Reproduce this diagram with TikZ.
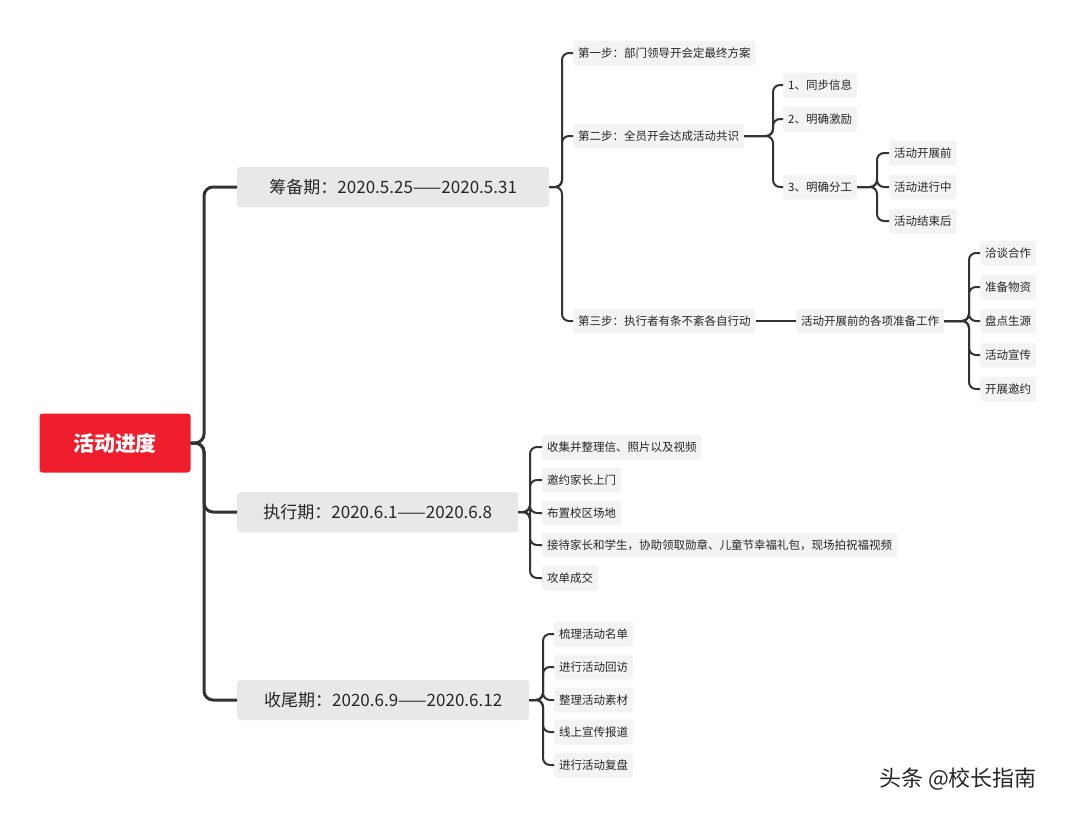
\documentclass[tikz,border=0pt]{standalone}
\usepackage{fontspec}
\setmainfont{Noto Sans CJK SC}
\definecolor{rootred}{RGB}{240, 30, 45}
\definecolor{topic}{RGB}{232, 232, 232}
\definecolor{sub}{RGB}{243, 243, 243}
\definecolor{wire}{RGB}{51, 51, 51}

\begin{document}
\begin{tikzpicture}[x=1pt, y=-1pt]
    \tikzstyle{rootblock} = [rectangle, fill=rootred, text=white, font=\bfseries\fontsize{21}{24}\selectfont,
    minimum width=151pt, minimum height=59pt, rounded corners=3pt];
    \tikzstyle{tblock} = [rectangle, fill=topic, text=black!85, font=\fontsize{17}{20}\selectfont,
    minimum height=40pt, inner xsep=10pt, rounded corners=3pt, anchor=west];
    \tikzstyle{sblock} = [rectangle, fill=sub, text=black!85, font=\fontsize{11.5}{14}\selectfont,
    minimum height=25pt, inner xsep=5pt, rounded corners=3pt, anchor=west];
    \tikzstyle{link} = [draw=wire, line width=2pt, rounded corners=7pt];
    \tikzstyle{mainlink} = [draw=wire, line width=3pt, rounded corners=9pt];
    \useasboundingbox (0,0) rectangle (1080,817);

    % Root and periods
    \node [rootblock] (root) at (115,443) {活动进度};
    \node [tblock, minimum width=312pt] (prep) at (237,187) {筹备期：2020.5.25——2020.5.31};
    \node [tblock, minimum width=281pt] (exec) at (237,512) {执行期：2020.6.1——2020.6.8};
    \node [tblock, minimum width=292pt] (close) at (237,700) {收尾期：2020.6.9——2020.6.12};
    \foreach \t in {prep,exec,close}
      \draw [mainlink] (root.east) -- (204,443) |- (\t.west);

    % Preparation
    \node [sblock] (step1) at (573,53) {第一步：部门领导开会定最终方案};
    \node [sblock] (step2) at (573,136) {第二步：全员开会达成活动共识};
    \node [sblock] (step3) at (573,321) {第三步：执行者有条不紊各自行动};
    \foreach \t in {step1,step2,step3}
      \draw [link] (prep.east) -- (562,187) |- (\t.west);

    \node [sblock] (sync) at (783,85) {1、同步信息};
    \node [sblock] (reward) at (783,119) {2、明确激励};
    \node [sblock] (split) at (783,187) {3、明确分工};
    \foreach \t in {sync,reward,split}
      \draw [link] (step2.east) -- (773,136) |- (\t.west);

    \node [sblock] (before) at (889,153) {活动开展前};
    \node [sblock] (during) at (889,187) {活动进行中};
    \node [sblock] (after) at (889,221) {活动结束后};
    \foreach \t in {before,during,after}
      \draw [link] (split.east) -- (877,187) |- (\t.west);

    \node [sblock] (ready) at (796,321) {活动开展前的各项准备工作};
    \draw [link] (step3.east) -- (ready.west);
    \foreach \t/\y/\n in {洽谈合作/253/r1, 准备物资/287/r2, 盘点生源/321/r3, 活动宣传/355/r4, 开展邀约/389/r5} {
      \node [sblock] (\n) at (980,\y) {\t};
      \draw [link] (ready.east) -- (969,321) |- (\n.west);
    }

    % Execution
    \foreach \t/\y/\n in {收集并整理信、照片以及视频/447/e1, 邀约家长上门/480/e2, 布置校区场地/513/e3,
      接待家长和学生，协助领取勋章、儿童节幸福礼包，现场拍祝福视频/545/e4, 攻单成交/578/e5} {
      \node [sblock] (\n) at (542,\y) {\t};
      \draw [link] (exec.east) -- (530,512) |- (\n.west);
    }

    % Closing
    \foreach \t/\y/\n in {梳理活动名单/634/c1, 进行活动回访/667/c2, 整理活动素材/700/c3,
      线上宣传报道/732/c4, 进行活动复盘/765/c5} {
      \node [sblock] (\n) at (554,\y) {\t};
      \draw [link] (close.east) -- (543,700) |- (\n.west);
    }

    \node [font=\fontsize{22}{26}\selectfont, text=black!85] (mark) at (958,779) {头条 @校长指南};
\end{tikzpicture}
\end{document}
